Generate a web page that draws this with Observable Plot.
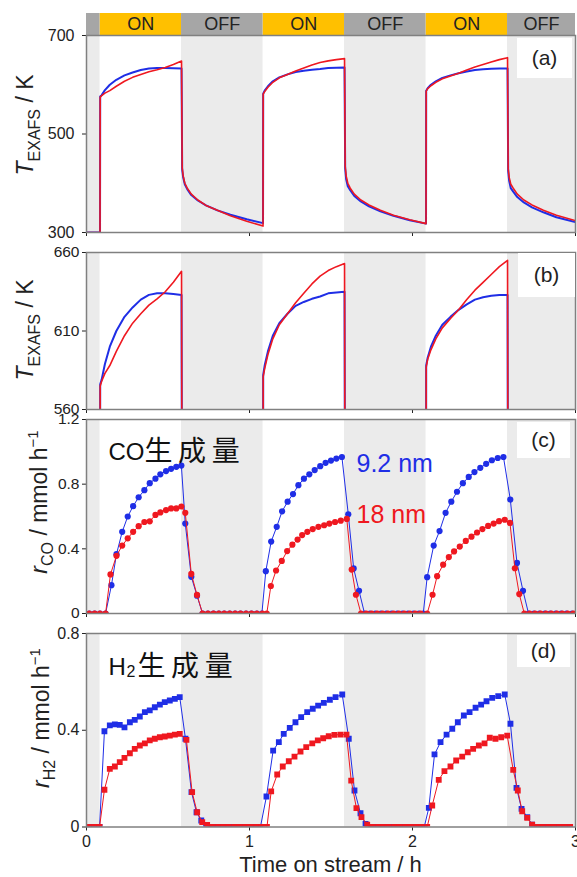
<!DOCTYPE html>
<html><head><meta charset="utf-8">
<script src="https://cdn.jsdelivr.net/npm/d3@7"></script>
<script src="https://cdn.jsdelivr.net/npm/@observablehq/plot@0.6"></script>
<style>
body{margin:0;background:#fff;}
#chart{position:relative;width:577px;height:877px;font-family:"Liberation Sans",Arial,sans-serif;overflow:hidden;}
#chart svg{position:absolute;left:0;top:0;}
.plab{position:absolute;background:#fff;font-size:21px;color:#222;display:flex;align-items:center;justify-content:center;font-family:"Liberation Sans",Arial,sans-serif;}
</style></head><body><div id="chart"></div><script>
// ---- phases (h) ----
const phaseLabels = ["", "ON", "OFF", "ON", "OFF", "ON", "OFF"];
const phaseKind   = ["OFF","ON","OFF","ON","OFF","ON","OFF"];
const phaseStart  = [0, 0.083, 0.583, 1.083, 1.583, 2.083, 2.583];
const phaseEnd    = [0.083, 0.583, 1.083, 1.583, 2.083, 2.583, 3.0];

// ---- (a)/(b) T_EXAFS / K ----
const tempTime = [0,0.083,
0.084,0.093,0.113,0.143,0.183,0.233,0.283,0.333,0.383,0.433,0.483,0.533,0.583,
0.587,0.593,0.603,0.618,0.643,0.683,0.733,0.803,0.883,0.983,1.083,
1.084,1.093,1.113,1.143,1.183,1.233,1.283,1.333,1.383,1.433,1.483,1.533,1.583,
1.587,1.593,1.603,1.618,1.643,1.683,1.733,1.803,1.883,1.983,2.083,
2.084,2.093,2.113,2.143,2.183,2.233,2.283,2.333,2.383,2.433,2.483,2.533,2.583,
2.587,2.593,2.603,2.618,2.643,2.683,2.733,2.803,2.883,3.000];
const tempBlue = [300,300,
576,579,589,600,610,619,625,630,633,634,634,633.5,633,
428,412,398,388,376,365,355,345,336,327,319,
582,588,597,607,615,621,626,628.5,630.5,632,634,634.5,635,
430,408,394,386,374,363,353,343,334,325,318,
588,593,600,607,614,619,623.5,627,630,631.5,632.5,633,633,
425,405,390,383,372,361,351,341,331,321];
const tempRed = [300,300,
575,578,583,588,597,607,615,621,626.5,630.5,635,641,648,
432,415,400,390,378,366,355,345,334,323,313,
581,586,595,605,614,621,628,634,640,645,648.5,651,653,
435,415,400,390,378,366,356,345,335,326,318,
587,592,598,605,612,618,623.5,630,636,641,646,651,655,
430,412,398,390,378,366,356,345,335,324];

// ---- (c) r_CO ----
const coTimeBlue = [0.017,0.050,0.083,0.117,
0.153,0.184,0.219,0.253,0.286,0.320,0.355,0.388,0.423,0.453,0.488,0.519,0.551,0.582,
0.606,0.643,0.678,0.712,
0.745,0.779,0.812,0.845,0.879,0.912,0.945,0.979,1.012,1.045,1.076,
1.100,1.133,1.167,1.200,1.234,1.267,1.300,1.334,1.367,1.400,1.434,1.467,1.500,1.533,1.567,
1.606,1.639,1.672,1.706,
1.739,1.772,1.806,1.839,1.872,1.906,1.939,1.972,2.006,2.039,2.066,
2.090,2.130,2.166,2.203,2.238,2.273,2.309,2.345,2.380,2.416,2.452,2.487,2.523,2.558,
2.600,2.641,2.678,2.712,
2.745,2.779,2.812,2.845,2.879,2.912,2.945,2.979];
const coBlue = [0,0,0,0,
0.175,0.367,0.505,0.600,0.664,0.719,0.763,0.806,0.834,0.861,0.881,0.895,0.907,0.915,
0.556,0.227,0.110,0,
0,0,0,0,0,0,0,0,0,0,0,
0.262,0.445,0.536,0.632,0.692,0.739,0.794,0.834,0.861,0.887,0.911,0.932,0.946,0.958,0.968,
0.614,0.279,0.140,0,
0,0,0,0,0,0,0,0,0,0,0,
0.225,0.420,0.510,0.623,0.692,0.753,0.806,0.845,0.875,0.901,0.926,0.948,0.962,0.968,
0.705,0.313,0.140,0,
0,0,0,0,0,0,0,0];
const coTimeRed = [0.017,0.050,0.083,0.117,
0.147,0.184,0.219,0.253,0.286,0.320,0.355,0.388,0.423,0.453,0.488,0.519,0.551,0.582,
0.606,0.643,0.678,0.712,
0.745,0.779,0.812,0.845,0.879,0.912,0.945,0.979,1.012,1.045,1.079,1.106,
1.131,1.163,1.198,1.231,1.263,1.295,1.323,1.355,1.388,1.423,1.458,1.490,1.525,1.560,1.597,
1.627,1.653,1.684,
1.717,1.750,1.784,1.817,1.850,1.884,1.917,1.950,1.984,2.017,2.050,2.090,
2.123,2.151,2.188,2.223,2.255,2.290,2.327,2.362,2.396,2.429,2.464,2.498,2.531,2.566,
2.598,2.628,2.655,2.686,
2.719,2.752,2.786,2.819,2.852,2.886,2.919,2.952,2.986];
const coRed = [0,0,0,0,
0.242,0.357,0.420,0.465,0.505,0.540,0.566,0.570,0.610,0.625,0.640,0.650,0.650,0.662,
0.623,0.245,0.115,0,
0,0,0,0,0,0,0,0,0,0,0,0,
0.170,0.266,0.325,0.386,0.426,0.457,0.485,0.505,0.522,0.536,0.546,0.556,0.566,0.574,0.585,
0.272,0.116,0,
0,0,0,0,0,0,0,0,0,0,0,0,
0.116,0.231,0.302,0.349,0.384,0.414,0.449,0.475,0.501,0.522,0.542,0.556,0.571,0.580,
0.560,0.280,0.120,0,
0,0,0,0,0,0,0,0,0];

// ---- (d) r_H2 ----
const h2TimeBlue = [0.014,0.047,0.080,
0.110,0.143,0.174,0.204,0.233,0.266,0.296,0.327,0.358,0.388,0.419,0.450,0.480,0.511,0.542,0.572,
0.607,0.644,0.675,0.704,0.734,
0.767,0.800,0.834,0.867,0.900,0.934,0.967,1.000,1.034,1.067,
1.104,1.145,1.180,1.210,1.247,1.282,1.317,1.354,1.388,1.421,1.456,1.493,1.528,1.569,
1.609,1.644,1.681,1.712,
1.745,1.779,1.812,1.845,1.879,1.912,1.945,1.979,2.012,2.045,2.072,
2.100,2.135,2.172,2.209,2.244,2.278,2.315,2.350,2.387,2.421,2.454,2.489,2.526,2.566,
2.601,2.638,2.669,2.704,2.734,
2.767,2.800,2.834,2.867,2.900,2.934,2.967];
const h2Blue = [0,0,0,
0.396,0.420,0.424,0.422,0.412,0.433,0.443,0.457,0.475,0.482,0.495,0.506,0.516,0.523,0.530,0.537,
0.365,0.144,0.061,0.027,0.009,
0,0,0,0,0,0,0,0,0,0,
0.126,0.316,0.351,0.385,0.410,0.433,0.454,0.475,0.489,0.502,0.513,0.526,0.537,0.548,
0.365,0.151,0.057,0.013,
0,0,0,0,0,0,0,0,0,0,0,
0.079,0.300,0.351,0.382,0.406,0.433,0.461,0.475,0.493,0.506,0.520,0.534,0.541,0.548,
0.427,0.162,0.075,0.041,0.010,
0,0,0,0,0,0,0];
const h2TimeRed = [0.014,0.047,0.080,
0.110,0.143,0.174,0.204,0.233,0.266,0.296,0.327,0.358,0.388,0.419,0.450,0.480,0.511,0.542,0.572,
0.613,0.648,0.679,0.710,0.740,
0.773,0.807,0.840,0.873,0.907,0.940,0.973,1.007,1.040,1.073,1.107,
1.133,1.170,1.204,1.241,1.276,1.313,1.348,1.385,1.419,1.452,1.486,1.521,1.558,1.595,
1.624,1.656,1.687,1.722,
1.755,1.789,1.822,1.855,1.889,1.922,1.955,1.989,2.022,2.055,2.090,
2.121,2.161,2.196,2.233,2.268,2.305,2.339,2.372,2.407,2.442,2.474,2.509,2.544,2.581,
2.618,2.646,2.673,2.704,2.734,
2.767,2.800,2.834,2.867,2.900,2.934,2.967];
const h2Red = [0,0,0,
0.154,0.240,0.250,0.268,0.286,0.305,0.323,0.337,0.346,0.358,0.365,0.371,0.374,0.378,0.382,0.385,
0.360,0.144,0.061,0.020,0.009,
0,0,0,0,0,0,0,0,0,0,0,
0.147,0.217,0.250,0.272,0.291,0.312,0.330,0.346,0.358,0.367,0.375,0.381,0.382,0.382,
0.192,0.078,0.041,0.010,
0,0,0,0,0,0,0,0,0,0,0,
0.089,0.195,0.231,0.250,0.275,0.291,0.309,0.323,0.337,0.346,0.369,0.365,0.371,0.378,
0.236,0.151,0.065,0.038,0.010,
0,0,0,0,0,0,0];

// ---- tick values ----
const xTicks = [0, 1, 2, 3];
const yTicksA = [300, 500, 700];
const yTicksB = [560, 610, 660];
const yTicksC = [0, 0.4, 0.8, 1.2];
const yTicksD = [0, 0.4, 0.8];

// ---- build ----
const zip = (ts, vs) => ts.slice(0, Math.min(ts.length, vs.length)).map((t, i) => ({t, v: vs[i]}));
const phases = phaseStart.map((s, i) => ({s, e: phaseEnd[i], kind: phaseKind[i], label: phaseLabels[i]}));
const offs = phases.filter(d => d.kind === "OFF");
const tB = zip(tempTime, tempBlue), tR = zip(tempTime, tempRed);
const cB = zip(coTimeBlue, coBlue), cR = zip(coTimeRed, coRed);
const hB = zip(h2TimeBlue, h2Blue), hR = zip(h2TimeRed, h2Red);

const W = 577, ML = 86, MR = 2;
const FONT = '"Liberation Sans", Arial, sans-serif';
const BLUE = "#1f2ee6", RED = "#ef1820", SHADE = "#ebebeb", YEL = "#ffc000", GRAY = "#a6a6a6";
const chart = document.getElementById("chart");

function panel({top, bottom, mb, domain, ticks, pad, xLabels, fs, marks}) {
  return Plot.plot({
    width: W, height: bottom + mb, marginTop: top, marginBottom: mb, marginLeft: ML, marginRight: MR,
    style: {background: "transparent", overflow: "visible", fontFamily: FONT, fontSize: (fs || 16) + "px", color: "#222"},
    x: {domain: [0, 3], ticks: xTicks, tickSize: 4, tickPadding: 5, tickFormat: xLabels ? (d => String(d)) : (() => ""), label: null},
    y: {domain, ticks, tickSize: 4, tickPadding: pad, tickFormat: d => String(d), label: null},
    marks: [
      Plot.rect(offs, {x1: "s", x2: "e", fill: SHADE}),
      ...marks,
      Plot.frame({stroke: "#808080", strokeWidth: 1.5})
    ]
  });
}

// ON/OFF bar
chart.append(Plot.plot({
  width: W, height: 36, marginTop: 13, marginBottom: 1, marginLeft: ML, marginRight: MR,
  style: {background: "transparent", overflow: "visible", fontFamily: FONT},
  x: {domain: [0, 3], axis: null}, y: {axis: null},
  marks: [
    Plot.rect(phases.filter(d => d.kind === "ON"), {x1: "s", x2: "e", fill: YEL}),
    Plot.rect(phases.filter(d => d.kind === "OFF"), {x1: "s", x2: "e", fill: GRAY}),
    Plot.text(phases.filter(d => d.label), {x: d => (d.s + d.e) / 2, text: "label", frameAnchor: "middle", fontSize: 18, fill: "#222"})
  ]
}));

const tLines = [
  Plot.line(tB, {x: "t", y: "v", stroke: BLUE, strokeWidth: 2, clip: true}),
  Plot.line(tR, {x: "t", y: "v", stroke: RED, strokeWidth: 1.6, clip: true})
];
chart.append(panel({top: 35, bottom: 232, mb: 10, domain: [300, 700], ticks: yTicksA, pad: 8, marks: tLines}));
chart.append(panel({top: 252, bottom: 409, mb: 6, domain: [560, 660], ticks: yTicksB, pad: 3, fs: 15.5, marks: tLines}));

chart.append(panel({top: 419, bottom: 613, mb: 10, domain: [0, 1.2], ticks: yTicksC, pad: 3, fs: 15.5, marks: [
  Plot.line(cB, {x: "t", y: "v", stroke: BLUE, strokeWidth: 1, clip: true}),
  Plot.dot(cB, {x: "t", y: "v", r: 3.1, fill: BLUE, clip: true}),
  Plot.line(cR, {x: "t", y: "v", stroke: RED, strokeWidth: 1, clip: true}),
  Plot.dot(cR, {x: "t", y: "v", r: 3.1, fill: RED, clip: true}),
  Plot.text(["CO"], {text: d => d, frameAnchor: "top-left", dx: 22, dy: 23, textAnchor: "start", fontSize: 24, fill: "#111"}),
  Plot.text(["生\u2009成\u2009量"], {text: d => d, frameAnchor: "top-left", dx: 58, dy: 22, textAnchor: "start", fontSize: 28, fontFamily: '"Noto Sans CJK JP", sans-serif', fill: "#111"}),
  Plot.text(["9.2 nm"], {text: d => d, frameAnchor: "top-left", dx: 270, dy: 35, textAnchor: "start", fontSize: 25, fill: BLUE}),
  Plot.text(["18 nm"], {text: d => d, frameAnchor: "top-left", dx: 270, dy: 86, textAnchor: "start", fontSize: 25, fill: RED})
]}));

chart.append(panel({top: 633, bottom: 826.5, mb: 50.5, domain: [0, 0.8], ticks: yTicksD, pad: 3, xLabels: true, marks: [
  Plot.line(hB, {x: "t", y: "v", stroke: BLUE, strokeWidth: 1, clip: true}),
  Plot.dot(hB, {x: "t", y: "v", r: 3.3, symbol: "square", fill: BLUE, clip: true}),
  Plot.line(hR, {x: "t", y: "v", stroke: RED, strokeWidth: 1, clip: true}),
  Plot.dot(hR, {x: "t", y: "v", r: 3.3, symbol: "square", fill: RED, clip: true}),
  Plot.text(["H"], {text: d => d, frameAnchor: "top-left", dx: 22, dy: 24, textAnchor: "start", fontSize: 24, fill: "#111"}),
  Plot.text(["2"], {text: d => d, frameAnchor: "top-left", dx: 40, dy: 32, textAnchor: "start", fontSize: 16, fill: "#111"}),
  Plot.text(["生\u2009成\u2009量"], {text: d => d, frameAnchor: "top-left", dx: 51, dy: 23, textAnchor: "start", fontSize: 28, fontFamily: '"Noto Sans CJK JP", sans-serif', fill: "#111"})
]}));

// axis titles (real text)
const ov = d3.create("svg").attr("width", W).attr("height", 877).style("overflow", "visible");
function ytitle(x, y, parts) {
  const t = ov.append("text").attr("transform", `translate(${x},${y}) rotate(-90)`)
    .attr("text-anchor", "middle").style("font-family", FONT).style("font-size", "23px").attr("fill", "#222");
  for (const p of parts) {
    const s = t.append("tspan").text(p.t);
    if (p.it) s.style("font-style", "italic");
    if (p.fs) s.style("font-size", p.fs + "px");
    if (p.dy) s.attr("dy", p.dy);
  }
}
ytitle(33, 125, [{t: "T", it: 1}, {t: "EXAFS", fs: 16, dy: 7}, {t: " / K", dy: -7}]);
ytitle(33, 330, [{t: "T", it: 1}, {t: "EXAFS", fs: 16, dy: 7}, {t: " / K", dy: -7}]);
ytitle(47, 502, [{t: "r", it: 1}, {t: "CO", fs: 16, dy: 6}, {t: " / mmol h", dy: -6}, {t: "\u22121", fs: 15, dy: -9}]);
ytitle(49, 718, [{t: "r", it: 1}, {t: "H2", fs: 16, dy: 6}, {t: " / mmol h", dy: -6}, {t: "\u22121", fs: 15, dy: -9}]);
ov.append("text").attr("x", 330.5).attr("y", 872).attr("text-anchor", "middle")
  .style("font-family", FONT).style("font-size", "22px").attr("fill", "#222").text("Time on stream / h");
chart.append(ov.node());

// panel tags
const tags = [["(a)", 517, 38, 55, 40], ["(b)", 518, 253, 57, 44], ["(c)", 517, 422, 53, 36], ["(d)", 517, 635, 53, 32]];
for (const [s, l, tp, w, h] of tags) {
  const d = document.createElement("div");
  d.className = "plab"; d.textContent = s;
  Object.assign(d.style, {left: l + "px", top: tp + "px", width: w + "px", height: h + "px"});
  chart.append(d);
}
</script></body></html>
